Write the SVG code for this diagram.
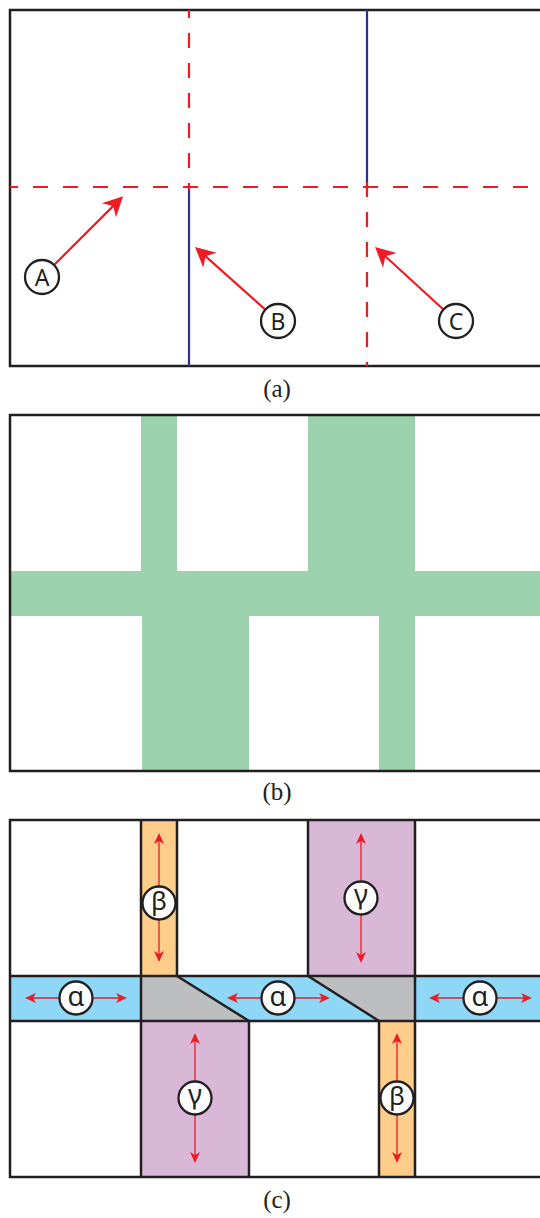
<svg xmlns="http://www.w3.org/2000/svg" width="540" height="1218" viewBox="0 0 540 1218">
<style>
.frame{fill:none;stroke:#231f20;stroke-width:2.5}
.edge{stroke:#231f20;stroke-width:2.5;fill:none}
.blue{stroke:#2e3192;stroke-width:2.2;fill:none}
.dash{stroke:#ed1c24;stroke-width:2.2;fill:none;stroke-dasharray:15 15}
.big{stroke:#ed1c24;stroke-width:2.2;fill:none;marker-end:url(#headA)}
.small{stroke:#ed1c24;stroke-width:1.3;fill:none;marker-end:url(#headC)}
.node circle{fill:#fff;stroke:#231f20;stroke-width:2.3}
.lbl{font-family:"Noto Sans","Open Sans",sans-serif;fill:#231f20;text-anchor:middle}
.cap{font-family:"Liberation Serif","Times New Roman",serif;font-size:25px;fill:#231f20;text-anchor:middle}
.green{fill:#9cd3ae}
.orange{fill:#fdcd89}
.purple{fill:#d9b7d7}
.cyan{fill:#8ed7f6}
.gray{fill:#bcbec0}
</style>
<defs>
<marker id="headA" viewBox="-21 -11 22 22" refX="-12" refY="0" markerWidth="22" markerHeight="22" orient="auto" markerUnits="userSpaceOnUse">
<path d="M0,0 L-20,-10 L-14,0 L-20,10 Z" fill="#ed1c24"/>
</marker>
<marker id="headC" viewBox="-12 -6 13 12" refX="-6" refY="0" markerWidth="13" markerHeight="12" orient="auto" markerUnits="userSpaceOnUse">
<path d="M0,0 L-11,-5 L-8,0 L-11,5 Z" fill="#ed1c24"/>
</marker>
</defs>
<rect width="540" height="1218" fill="#fff"/>

<!-- Panel (a) -->
<g id="panel-a">
<rect class="frame" x="10" y="10" width="545" height="356"/>
<line class="blue" x1="189" y1="187" x2="189" y2="366"/>
<line class="blue" x1="367" y1="10" x2="367" y2="187"/>
<line class="dash" x1="10" y1="187" x2="541" y2="187" stroke-dashoffset="7"/>
<line class="dash" x1="189" y1="10" x2="189" y2="190" stroke-dashoffset="7"/>
<line class="dash" x1="367" y1="182" x2="367" y2="366"/>
<text class="cap" x="277" y="397">(a)</text>
</g>

<!-- Panel (b) -->
<g id="panel-b">
<rect class="green" x="10" y="571" width="545" height="45"/>
<rect class="green" x="141" y="415" width="36" height="156"/>
<rect class="green" x="308" y="415" width="107" height="156"/>
<rect class="green" x="142" y="616" width="107" height="155"/>
<rect class="green" x="379" y="616" width="36" height="155"/>
<rect class="frame" x="10" y="415" width="545" height="356"/>
<text class="cap" x="277" y="800">(b)</text>
</g>

<!-- Panel (c) -->
<g id="panel-c">
<rect class="orange" x="141" y="820" width="36" height="156"/>
<rect class="purple" x="308" y="820" width="107" height="156"/>
<rect class="purple" x="141" y="1021" width="108" height="156"/>
<rect class="orange" x="379" y="1021" width="36" height="156"/>
<rect class="cyan" x="10" y="976" width="131" height="45"/>
<polygon class="cyan" points="177,976 308,976 379,1021 249,1021"/>
<rect class="cyan" x="415" y="976" width="140" height="45"/>
<polygon class="gray" points="141,976 177,976 249,1021 141,1021"/>
<polygon class="gray" points="308,976 415,976 415,1021 379,1021"/>
<line class="edge" x1="10" y1="976" x2="555" y2="976"/>
<line class="edge" x1="10" y1="1021" x2="555" y2="1021"/>
<line class="edge" x1="141" y1="820" x2="141" y2="1177"/>
<line class="edge" x1="415" y1="820" x2="415" y2="1177"/>
<line class="edge" x1="177" y1="820" x2="177" y2="976"/>
<line class="edge" x1="308" y1="820" x2="308" y2="976"/>
<line class="edge" x1="249" y1="1021" x2="249" y2="1177"/>
<line class="edge" x1="379" y1="1021" x2="379" y2="1177"/>
<line class="edge" x1="177" y1="976" x2="249" y2="1021"/>
<line class="edge" x1="308" y1="976" x2="379" y2="1021"/>
<rect class="frame" x="10" y="820" width="545" height="357"/>
<text class="cap" x="277" y="1208">(c)</text>
</g>

<!-- Connectors -->
<g id="connectors">
<line class="big" x1="42" y1="277" x2="114.6" y2="204.6"/>
<line class="big" x1="278" y1="321" x2="204" y2="254.9"/>
<line class="big" x1="456" y1="321" x2="383.9" y2="255"/>
<line class="small" x1="76" y1="998" x2="31" y2="998"/>
<line class="small" x1="76" y1="998" x2="121" y2="998"/>
<line class="small" x1="278" y1="998" x2="233" y2="998"/>
<line class="small" x1="278" y1="998" x2="324" y2="998"/>
<line class="small" x1="480" y1="998" x2="435" y2="998"/>
<line class="small" x1="480" y1="998" x2="526" y2="998"/>
<line class="small" x1="159" y1="903" x2="159" y2="839"/>
<line class="small" x1="159" y1="903" x2="159" y2="956"/>
<line class="small" x1="361" y1="898" x2="361" y2="839"/>
<line class="small" x1="361" y1="898" x2="361" y2="957"/>
<line class="small" x1="195" y1="1098" x2="195" y2="1039"/>
<line class="small" x1="195" y1="1098" x2="195" y2="1157"/>
<line class="small" x1="397" y1="1098" x2="397" y2="1039"/>
<line class="small" x1="397" y1="1098" x2="397" y2="1157"/>
</g>

<!-- Nodes -->
<g id="node-A" class="node"><circle cx="42" cy="277" r="17"/><text class="lbl" x="42" y="285.5" font-size="23">A</text></g>
<g id="node-B" class="node"><circle cx="278" cy="321" r="17"/><text class="lbl" x="278" y="329.5" font-size="23">B</text></g>
<g id="node-C" class="node"><circle cx="456" cy="321" r="17"/><text class="lbl" x="456" y="329.5" font-size="23">C</text></g>
<g id="node-alpha-1" class="node"><circle cx="76" cy="998" r="16.5"/><text class="lbl" x="76" y="1005.5" font-size="27">α</text></g>
<g id="node-alpha-2" class="node"><circle cx="278" cy="998" r="16.5"/><text class="lbl" x="278" y="1005.5" font-size="27">α</text></g>
<g id="node-alpha-3" class="node"><circle cx="480" cy="998" r="16.5"/><text class="lbl" x="480" y="1005.5" font-size="27">α</text></g>
<g id="node-beta-1" class="node"><circle cx="159" cy="903" r="16.5"/><text class="lbl" x="159" y="910" font-size="26">β</text></g>
<g id="node-gamma-1" class="node"><circle cx="361" cy="898" r="16.5"/><text class="lbl" x="361" y="903.5" font-size="27">γ</text></g>
<g id="node-gamma-2" class="node"><circle cx="195" cy="1098" r="16.5"/><text class="lbl" x="195" y="1103.5" font-size="27">γ</text></g>
<g id="node-beta-2" class="node"><circle cx="397" cy="1098" r="16.5"/><text class="lbl" x="397" y="1105" font-size="26">β</text></g>
</svg>
